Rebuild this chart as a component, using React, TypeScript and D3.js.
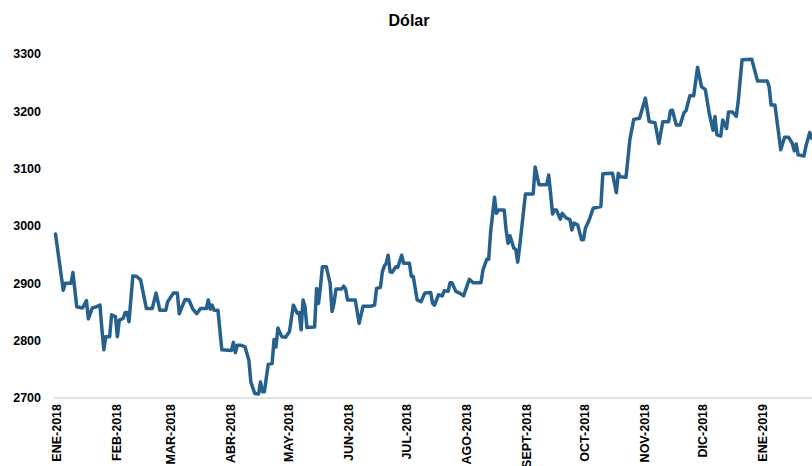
import React from "react";
import * as d3 from "d3";

const title = "Dólar";

const dates: string[] = [
  "2018-01-01","2018-01-05","2018-01-06","2018-01-09","2018-01-10","2018-01-12","2018-01-15","2018-01-17","2018-01-18","2018-01-20",
  "2018-01-22","2018-01-24","2018-01-25","2018-01-26","2018-01-27","2018-01-29","2018-01-30","2018-02-01","2018-02-02","2018-02-03",
  "2018-02-05","2018-02-06","2018-02-07","2018-02-08","2018-02-10","2018-02-12","2018-02-14","2018-02-17","2018-02-20","2018-02-22",
  "2018-02-24","2018-02-27","2018-02-28","2018-03-03","2018-03-05","2018-03-06","2018-03-09","2018-03-11","2018-03-13","2018-03-15",
  "2018-03-17","2018-03-20","2018-03-21","2018-03-22","2018-03-23","2018-03-24","2018-03-26","2018-03-28","2018-04-02","2018-04-03",
  "2018-04-04","2018-04-05","2018-04-07","2018-04-09","2018-04-11","2018-04-12","2018-04-14","2018-04-16","2018-04-17","2018-04-18",
  "2018-04-19","2018-04-21","2018-04-23","2018-04-24","2018-04-25","2018-04-26","2018-04-28","2018-04-30","2018-05-02","2018-05-04",
  "2018-05-06","2018-05-07","2018-05-08","2018-05-09","2018-05-10","2018-05-11","2018-05-15","2018-05-16","2018-05-17","2018-05-18",
  "2018-05-19","2018-05-21","2018-05-23","2018-05-24","2018-05-25","2018-05-26","2018-05-29","2018-05-30","2018-05-31","2018-06-01",
  "2018-06-05","2018-06-07","2018-06-09","2018-06-13","2018-06-15","2018-06-16","2018-06-18","2018-06-19","2018-06-20","2018-06-21",
  "2018-06-22","2018-06-23","2018-06-24","2018-06-26","2018-06-27","2018-06-29","2018-06-30","2018-07-03","2018-07-04","2018-07-05",
  "2018-07-07","2018-07-09","2018-07-11","2018-07-14","2018-07-15","2018-07-16","2018-07-18","2018-07-20","2018-07-21","2018-07-23",
  "2018-07-24","2018-07-25","2018-07-27","2018-07-29","2018-07-31","2018-08-03","2018-08-05","2018-08-09","2018-08-10","2018-08-12",
  "2018-08-13","2018-08-14","2018-08-16","2018-08-17","2018-08-18","2018-08-21","2018-08-22","2018-08-23","2018-08-24","2018-08-26",
  "2018-08-27","2018-08-28","2018-08-29","2018-09-01","2018-09-05","2018-09-06","2018-09-08","2018-09-12","2018-09-13","2018-09-14",
  "2018-09-15","2018-09-16","2018-09-17","2018-09-19","2018-09-20","2018-09-22","2018-09-24","2018-09-25","2018-09-26","2018-09-28",
  "2018-09-30","2018-10-01","2018-10-02","2018-10-04","2018-10-06","2018-10-10","2018-10-11","2018-10-16","2018-10-18","2018-10-19",
  "2018-10-20","2018-10-23","2018-10-25","2018-10-27","2018-10-30","2018-11-02","2018-11-04","2018-11-07","2018-11-09","2018-11-11",
  "2018-11-14","2018-11-15","2018-11-16","2018-11-18","2018-11-20","2018-11-22","2018-11-23","2018-11-25","2018-11-27","2018-11-29",
  "2018-12-01","2018-12-03","2018-12-05","2018-12-07","2018-12-08","2018-12-09","2018-12-11","2018-12-12","2018-12-14","2018-12-15",
  "2018-12-17","2018-12-19","2018-12-20","2018-12-22","2018-12-27","2018-12-30","2019-01-04","2019-01-05","2019-01-06","2019-01-08",
  "2019-01-11","2019-01-13","2019-01-15","2019-01-17","2019-01-18","2019-01-19","2019-01-20","2019-01-23","2019-01-24","2019-01-26",
  "2019-01-27"
];

const values: number[] = [
  2986,2888,2900,2900,2919,2859,2857,2870,2838,2857,
  2859,2862,2820,2784,2807,2807,2845,2842,2807,2836,
  2839,2849,2849,2833,2913,2912,2906,2856,2856,2883,
  2853,2853,2868,2883,2883,2847,2872,2871,2855,2847,
  2856,2856,2871,2855,2862,2853,2853,2784,2783,2797,
  2779,2792,2792,2789,2766,2728,2708,2707,2728,2711,
  2711,2759,2760,2802,2789,2822,2807,2806,2816,2862,
  2848,2849,2819,2871,2860,2823,2824,2891,2865,2894,
  2929,2929,2900,2851,2865,2890,2890,2895,2890,2871,
  2871,2830,2860,2860,2862,2891,2893,2920,2930,2935,
  2949,2920,2919,2929,2928,2949,2935,2935,2912,2912,
  2871,2868,2883,2884,2865,2862,2880,2878,2887,2886,
  2901,2901,2886,2883,2878,2907,2901,2901,2923,2942,
  2942,2990,3050,3022,3028,3028,2993,2970,2983,2961,
  2959,2937,2964,3056,3056,3103,3072,3072,3089,3057,
  3021,3028,3028,3012,3022,3014,3011,2993,3005,3002,
  2976,2976,2996,3011,3031,3034,3091,3092,3058,3092,
  3086,3085,3151,3186,3188,3223,3182,3180,3144,3182,
  3182,3201,3202,3176,3176,3198,3201,3227,3227,3277,
  3243,3238,3197,3167,3191,3159,3157,3185,3170,3199,
  3199,3191,3217,3290,3291,3253,3253,3243,3211,3211,
  3133,3155,3155,3144,3131,3143,3124,3122,3139,3163,
  3153
];

const yTicks: number[] = [2700, 2800, 2900, 3000, 3100, 3200, 3300];

const monthTicks: string[] = [
  "2018-01-01","2018-02-01","2018-03-01","2018-04-01","2018-05-01","2018-06-01","2018-07-01",
  "2018-08-01","2018-09-01","2018-10-01","2018-11-01","2018-12-01","2019-01-01"
];
const monthLabels: string[] = [
  "ENE-2018","FEB-2018","MAR-2018","ABR-2018","MAY-2018","JUN-2018","JUL-2018",
  "AGO-2018","SEPT-2018","OCT-2018","NOV-2018","DIC-2018","ENE-2019"
];

const W = 812;
const H = 466;
const FONT = "'Liberation Sans', Arial, Helvetica, sans-serif";

export default function App() {
  const parse = d3.timeParse("%Y-%m-%d");
  const data = dates.map((d, i) => ({ date: parse(d) as Date, value: values[i] }));

  const x = d3
    .scaleTime()
    .domain([parse("2018-01-01") as Date, parse("2019-01-01") as Date])
    .range([55.5, 761.4]);
  const y = d3.scaleLinear().domain([2700, 3300]).range([398, 54]);

  const line = d3
    .line<{ date: Date; value: number }>()
    .x((d) => x(d.date))
    .y((d) => y(d.value));

  return (
    <div>
      <style>{`body{margin:0;}`}</style>
      <svg width={W} height={H} style={{ display: "block", background: "#fff" }}>
        <text
          x={409}
          y={26}
          textAnchor="middle"
          fontFamily={FONT}
          fontWeight="bold"
          fontSize={16}
          fill="#000"
        >
          {title}
        </text>

        {yTicks.map((t) => (
          <text
            key={t}
            x={41}
            y={y(t)}
            dy="0.35em"
            textAnchor="end"
            fontFamily={FONT}
            fontWeight="bold"
            fontSize={12.5}
            fill="#000"
          >
            {t}
          </text>
        ))}

        <line x1={54} x2={W} y1={y(2700)} y2={y(2700)} stroke="#d9d9d9" strokeWidth={1.5} />

        {monthTicks.map((m, i) => {
          const px = x(parse(m) as Date) + 1.5;
          return (
            <text
              key={m}
              transform={`translate(${px},404) rotate(-90)`}
              dy="0.35em"
              textAnchor="end"
              fontFamily={FONT}
              fontWeight="bold"
              fontSize={12.5}
              fill="#000"
            >
              {monthLabels[i]}
            </text>
          );
        })}

        <path
          d={line(data) || ""}
          fill="none"
          stroke="#26618e"
          strokeWidth={3.5}
          strokeLinejoin="round"
          strokeLinecap="round"
        />
      </svg>
    </div>
  );
}
